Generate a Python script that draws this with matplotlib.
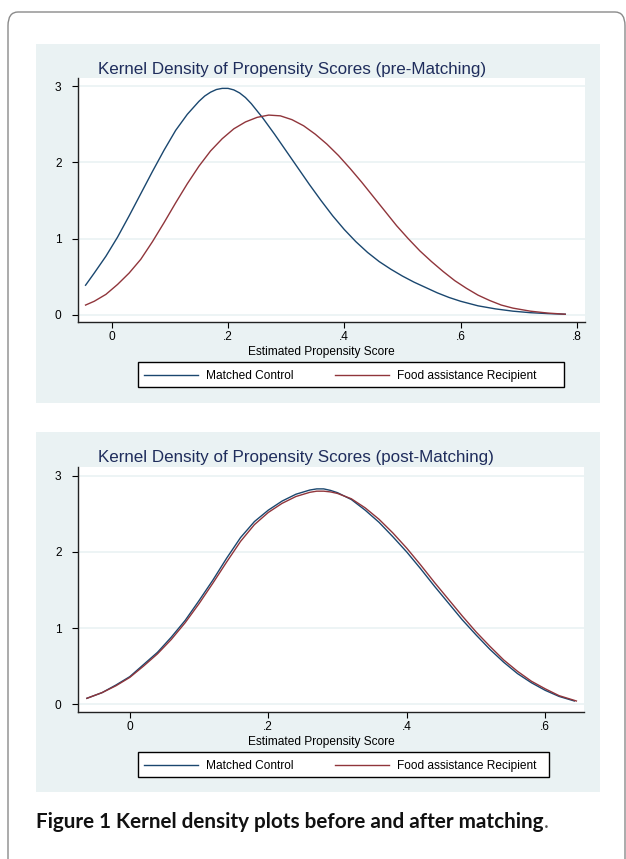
import numpy as np
import matplotlib.pyplot as plt
from matplotlib.patches import Rectangle, FancyBboxPatch
from matplotlib.lines import Line2D

plt.rcParams['font.family'] = ['Liberation Sans', 'DejaVu Sans']

W, H = 626, 859

# kernel density, pre-matching
pre_x_ctrl = [-0.045, -0.03, -0.01, 0.01, 0.03, 0.05, 0.07, 0.09, 0.11, 0.13, 0.15, 0.16,
              0.17, 0.18, 0.19, 0.20, 0.21, 0.22, 0.23, 0.24, 0.26, 0.28, 0.30, 0.32,
              0.34, 0.36, 0.38, 0.40, 0.42, 0.44, 0.46, 0.48, 0.50, 0.52, 0.54, 0.56,
              0.58, 0.60, 0.63, 0.66, 0.69, 0.72, 0.75, 0.78]
pre_y_ctrl = [0.39, 0.55, 0.77, 1.02, 1.30, 1.59, 1.88, 2.16, 2.42, 2.63, 2.80, 2.87,
              2.92, 2.955, 2.97, 2.97, 2.95, 2.91, 2.85, 2.77, 2.58, 2.37, 2.15, 1.93,
              1.71, 1.50, 1.30, 1.12, 0.96, 0.82, 0.70, 0.60, 0.51, 0.43, 0.36, 0.29,
              0.23, 0.18, 0.12, 0.08, 0.05, 0.03, 0.018, 0.01]
pre_x_food = [-0.045, -0.03, -0.01, 0.01, 0.03, 0.05, 0.07, 0.09, 0.11, 0.13, 0.15, 0.17,
              0.19, 0.21, 0.23, 0.25, 0.27, 0.29, 0.31, 0.33, 0.35, 0.37, 0.39, 0.41,
              0.43, 0.45, 0.47, 0.49, 0.51, 0.53, 0.55, 0.57, 0.59, 0.61, 0.63, 0.65,
              0.67, 0.69, 0.72, 0.75, 0.78]
pre_y_food = [0.13, 0.18, 0.27, 0.40, 0.55, 0.73, 0.96, 1.21, 1.47, 1.72, 1.95, 2.15,
              2.31, 2.44, 2.53, 2.59, 2.62, 2.61, 2.56, 2.48, 2.37, 2.24, 2.09, 1.92,
              1.74, 1.55, 1.36, 1.17, 1.00, 0.84, 0.70, 0.57, 0.45, 0.35, 0.26, 0.19,
              0.13, 0.09, 0.05, 0.025, 0.01]

# kernel density, post-matching
post_x_ctrl = [-0.062, -0.04, -0.02, 0.0, 0.02, 0.04, 0.06, 0.08, 0.10, 0.12, 0.14, 0.16,
               0.18, 0.20, 0.22, 0.24, 0.26, 0.27, 0.28, 0.29, 0.30, 0.32, 0.34, 0.36,
               0.38, 0.40, 0.42, 0.44, 0.46, 0.48, 0.50, 0.52, 0.54, 0.56, 0.58, 0.60,
               0.62, 0.642]
post_y_ctrl = [0.075, 0.15, 0.25, 0.36, 0.52, 0.68, 0.88, 1.10, 1.36, 1.63, 1.92, 2.19,
               2.40, 2.55, 2.67, 2.76, 2.815, 2.83, 2.83, 2.81, 2.78, 2.69, 2.55, 2.39,
               2.20, 2.00, 1.78, 1.55, 1.33, 1.11, 0.91, 0.72, 0.55, 0.40, 0.28, 0.18,
               0.10, 0.04]
post_x_food = [-0.062, -0.04, -0.02, 0.0, 0.02, 0.04, 0.06, 0.08, 0.10, 0.12, 0.14, 0.16,
               0.18, 0.20, 0.22, 0.24, 0.26, 0.27, 0.28, 0.29, 0.30, 0.32, 0.34, 0.36,
               0.38, 0.40, 0.42, 0.44, 0.46, 0.48, 0.50, 0.52, 0.54, 0.56, 0.58, 0.60,
               0.62, 0.645]
post_y_food = [0.075, 0.15, 0.24, 0.35, 0.50, 0.66, 0.85, 1.07, 1.32, 1.59, 1.87, 2.14,
               2.36, 2.52, 2.64, 2.73, 2.785, 2.80, 2.80, 2.79, 2.77, 2.70, 2.58, 2.43,
               2.25, 2.05, 1.83, 1.60, 1.38, 1.16, 0.95, 0.76, 0.58, 0.43, 0.30, 0.20,
               0.11, 0.04]

yticks = [0, 1, 2, 3]
pre_xticks = [0, 0.2, 0.4, 0.6, 0.8]
pre_xlabels = ['0', '.2', '.4', '.6', '.8']
post_xticks = [0, 0.2, 0.4, 0.6]
post_xlabels = ['0', '.2', '.4', '.6']
legend_labels = ['Matched Control', 'Food assistance Recipient']

NAVY = '#1a476f'
MAROON = '#90353b'
BG = '#eaf2f3'
TITLE_C = '#1f2d5c'


def fbox(x0, y0, x1, y1):
    # pixel box (top-left origin) -> figure fraction
    return [x0 / W, 1 - y1 / H, (x1 - x0) / W, (y1 - y0) / H]


def fx(x):
    return x / W


def fy(y):
    return 1 - y / H


fig = plt.figure(figsize=(W / 100, H / 100), dpi=100)

# outer rounded frame
frame = FancyBboxPatch((fx(8), fy(880)), fx(617), (880 - 12) / H,
                       boxstyle='round,pad=0,rounding_size=0.016',
                       transform=fig.transFigure, fill=False,
                       edgecolor='#8a8a8a', linewidth=1.0, zorder=-2)
fig.patches.append(frame)


def panel(top, bottom, ax_px, xlim, ylim, xticks, xlabels, title, xs, ys, leg_right):
    fig.patches.append(Rectangle((fx(36), fy(bottom)), fx(564), (bottom - top) / H,
                                 transform=fig.transFigure, facecolor=BG,
                                 edgecolor='none', zorder=-1))
    ax = fig.add_axes(fbox(*ax_px))
    ax.set_facecolor('white')
    for ty in yticks:
        ax.axhline(ty, color=BG, lw=1.2, zorder=1)
    ax.plot(xs[0], ys[0], color=NAVY, lw=1.0, zorder=3)
    ax.plot(xs[1], ys[1], color=MAROON, lw=1.0, zorder=3)
    ax.set_xlim(*xlim)
    ax.set_ylim(*ylim)
    ax.set_xticks(xticks)
    ax.set_xticklabels(xlabels)
    ax.set_yticks(yticks)
    ax.spines['top'].set_visible(False)
    ax.spines['right'].set_visible(False)
    for s in ['left', 'bottom']:
        ax.spines[s].set_color('#222222')
        ax.spines[s].set_linewidth(1.0)
    ax.tick_params(axis='x', length=4.3, width=0.8, pad=2.5, labelsize=8.6)
    ax.tick_params(axis='y', length=4.3, width=0.8, pad=7.5, labelsize=8.6)

    x0, y0, x1, y1 = ax_px
    fig.text(fx(98), fy(top + 30), title, fontsize=12.25, color=TITLE_C,
             ha='left', va='baseline')
    fig.text(fx(321), fy(y1 + 33), 'Estimated Propensity Score', fontsize=8.6,
             ha='center', va='baseline')

    # legend box
    ly0 = y1 + 40
    ly1 = ly0 + 25
    lc = (ly0 + ly1) / 2
    fig.patches.append(Rectangle((fx(138), fy(ly1)), fx(leg_right - 138), 25 / H,
                                 transform=fig.transFigure, facecolor='white',
                                 edgecolor='black', linewidth=1.0, zorder=2))
    fig.lines.append(Line2D([fx(144), fx(198)], [fy(lc), fy(lc)], color=NAVY, lw=1.0,
                            transform=fig.transFigure, zorder=3))
    fig.lines.append(Line2D([fx(335), fx(389)], [fy(lc), fy(lc)], color=MAROON, lw=1.0,
                            transform=fig.transFigure, zorder=3))
    fig.text(fx(206), fy(lc + 4.3), legend_labels[0], fontsize=8.6, ha='left',
             va='baseline', zorder=3)
    fig.text(fx(397), fy(lc + 4.3), legend_labels[1], fontsize=8.6, ha='left',
             va='baseline', zorder=3)
    return ax


panel(44, 403, (78, 78, 585, 322), (-0.058, 0.814), (-0.092, 3.106),
      pre_xticks, pre_xlabels, 'Kernel Density of Propensity Scores (pre-Matching)',
      (pre_x_ctrl, pre_x_food), (pre_y_ctrl, pre_y_food), 564)

panel(432, 792, (78, 467, 584, 712), (-0.0748, 0.656), (-0.105, 3.118),
      post_xticks, post_xlabels, 'Kernel Density of Propensity Scores (post-Matching)',
      (post_x_ctrl, post_x_food), (post_y_ctrl, post_y_food), 549)

# caption
cap = fig.text(fx(36), fy(828), 'Figure 1 Kernel density plots before and after matching',
               fontsize=12, fontweight='bold', family=['Lato', 'DejaVu Sans'],
               ha='left', va='baseline', color='#111111')
fig.canvas.draw()
bb = cap.get_window_extent()
cap.set_fontsize(12 * 505 / bb.width)
fig.canvas.draw()
bb = cap.get_window_extent()
fig.text(bb.x1 / W, fy(828), '.', fontsize=cap.get_fontsize(),
         family=['Lato', 'DejaVu Sans'], ha='left', va='baseline', color='#555555')

fig.savefig('out.png', dpi=100)
